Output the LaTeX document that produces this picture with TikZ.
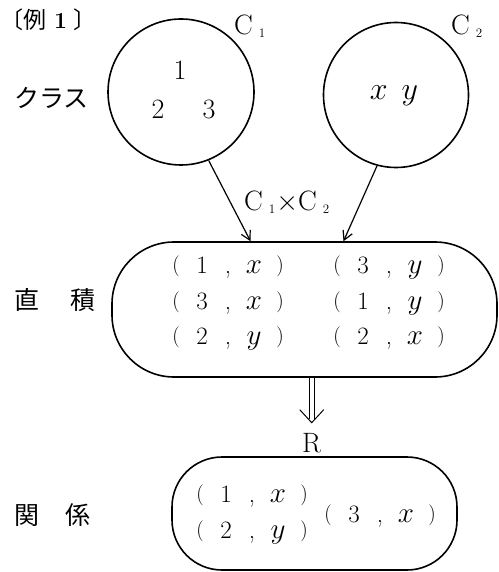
\documentclass[tikz,border=0pt]{standalone}
\usepackage{fix-cm}
\usepackage{fontspec}
\usepackage{tikz}
\usetikzlibrary{positioning, calc, arrows.meta}
\newfontfamily\jpfont{Noto Sans CJK JP}

% class name with a small, lowered index
\newcommand{\csub}[1]{C\hspace{6pt}\raisebox{-3pt}{\fontsize{13}{13}\selectfont #1}}
% one ordered pair, spaced out glyph by glyph
\newcommand{\prn}[1]{\raisebox{2pt}{\fontsize{21}{21}\selectfont #1}}
\newcommand{\pair}[2]{\makebox[26pt]{\prn{(}}\makebox[26pt]{#1}\makebox[26pt]{,}\makebox[26pt]{\fontsize{29}{29}\selectfont$#2$}\makebox[26pt]{\prn{)}}}

\begin{document}
\begin{tikzpicture}[x=1pt, y=-1pt, >={Straight Barb[length=9pt, width=10pt]},
    lbl/.style={font=\fontsize{25}{25}\selectfont\jpfont, anchor=west, inner sep=0pt},
    num/.style={font=\fontsize{28}{28}\selectfont, anchor=base, inner sep=0pt},
    cname/.style={font=\fontsize{28}{28}\selectfont, anchor=base west, inner sep=0pt},
    pairtxt/.style={font=\fontsize{25}{25}\selectfont, anchor=base, inner sep=0pt},
    set/.style={draw, line width=1.6pt}]
    \useasboundingbox (0,0) rectangle (498,572);

    % --- Title ---
    \node[lbl, font=\fontsize{23}{23}\selectfont\jpfont] (title) at (0,20)
        {〔例\hspace{8pt}{\rmfamily\bfseries 1}\hspace{6pt}〕};

    % --- Classes ---
    \node[lbl] (cls) at (14,98) {クラス};

    % C1
    \node[set, circle, minimum size=146] (c1) at (181,92) {};
    \node[cname] (c1name) at (234,35) {\csub{1}};
    \node[num] (n1) at (180,80) {1};
    \node[num] (n2) at (158,119) {2};
    \node[num] (n3) at (209,119) {3};

    % C2
    \node[set, circle, minimum size=145] (c2) at (396,95) {};
    \node[cname] (c2name) at (451,35) {\csub{2}};
    \node[num, font=\fontsize{32}{32}\selectfont] (xy) at (394,100) {$x$\hspace{14pt}$y$};

    % --- Direct product ---
    \node[lbl] (prodlbl) at (14,300) {直\hspace{31pt}積};
    \node[set, rounded corners=62pt, minimum width=385, minimum height=135] (prod) at (304.5,309.5) {};
    \node[pairtxt] (p11) at (228,273) {\pair{1}{x}};
    \node[pairtxt] (p21) at (228,309) {\pair{3}{x}};
    \node[pairtxt] (p31) at (228,344) {\pair{2}{y}};
    \node[pairtxt] (p12) at (389,273) {\pair{3}{y}};
    \node[pairtxt] (p22) at (389,309) {\pair{1}{y}};
    \node[pairtxt] (p32) at (389,344) {\pair{2}{x}};

    % Wires from the classes into the product
    \coordinate (prodin1) at ($(prod.north)+(-54,0)$);
    \coordinate (prodin2) at ($(prod.north)+(39,0)$);
    \draw[->, line width=1.2pt] (c1.-68) -- (prodin1);
    \draw[->, line width=1.2pt] (c2.255) -- (prodin2);
    \node[cname] (prodname) at (244,210) {\csub{1}\hspace{1pt}$\times$\csub{2}};

    % --- Relation ---
    \node[cname] (rname) at (302,452) {R};
    \coordinate (rtip) at ($(rname.north)+(0,-10)$);
    \draw[double, double distance=4pt, line width=1pt] (prod.south -| rtip) -- ($(rtip)+(0,-4)$);
    \draw[line width=1pt] ($(rtip)+(-12,-13)$) -- (rtip) -- ($(rtip)+(12,-13)$);
    \node[lbl] (rellbl) at (14,515) {関\hspace{26pt}係};
    \node[set, rounded corners=50pt, minimum width=285, minimum height=113] (rel) at (314.5,513.5) {};
    \node[pairtxt] (r1) at (252,502) {\pair{1}{x}};
    \node[pairtxt] (r2) at (252,538) {\pair{2}{y}};
    \node[pairtxt] (r3) at (380,522) {\pair{3}{x}};

\end{tikzpicture}
\end{document}
